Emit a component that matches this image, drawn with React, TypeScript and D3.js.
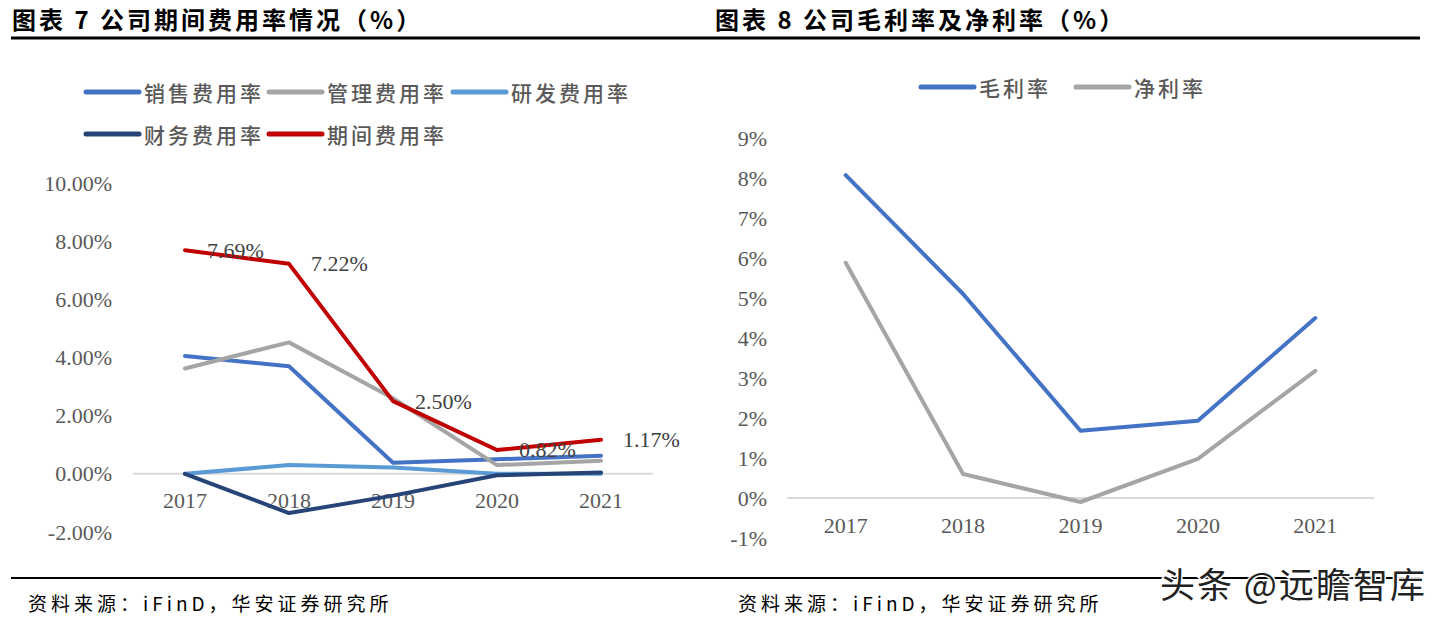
import React from 'react';
import * as d3 from 'd3';

const years = ['2017', '2018', '2019', '2020', '2021'];
const salesRate = [4.05, 3.70, 0.38, 0.50, 0.62];
const adminRate = [3.62, 4.52, 2.60, 0.30, 0.45];
const rndRate = [0.0, 0.30, 0.22, 0.0, 0.0];
const finRate = [0.0, -1.35, -0.75, -0.05, 0.05];
const periodRate = [7.69, 7.22, 2.50, 0.82, 1.17];
const grossMargin = [8.07, 5.10, 1.68, 1.93, 4.50];
const netMargin = [5.88, 0.60, -0.10, 0.98, 3.18];
const leftTicks = [-2, 0, 2, 4, 6, 8, 10];
const rightTicks = [-1, 0, 1, 2, 3, 4, 5, 6, 7, 8, 9];

const leftSeries = [
  { name: '销售费用率', values: salesRate, color: '#4472C4' },
  { name: '管理费用率', values: adminRate, color: '#A5A5A5' },
  { name: '研发费用率', values: rndRate, color: '#5B9BD5' },
  { name: '财务费用率', values: finRate, color: '#264478' },
  { name: '期间费用率', values: periodRate, color: '#C00000' },
];
const rightSeries = [
  { name: '毛利率', values: grossMargin, color: '#4472C4' },
  { name: '净利率', values: netMargin, color: '#A5A5A5' },
];

const SERIF = '"Liberation Serif", "DejaVu Serif", serif';
const CJK = '"Noto Sans CJK SC", "Noto Sans", sans-serif';

function Chart({ series, ticks, x0, x1, yTop, yBottom, yMin, yMax, tickX, fmt, yearY, labels }: any) {
  const x = d3.scaleBand<string>().domain(years).range([x0, x1]);
  const y = d3.scaleLinear().domain([yMin, yMax]).range([yBottom, yTop]);
  const cx = (i: number) => (x(years[i]) as number) + x.bandwidth() / 2;
  const line = d3.line<number>().x((_, i) => cx(i)).y((d) => y(d));
  return (
    <g>
      <line x1={x0} x2={x1} y1={y(0)} y2={y(0)} stroke="#D9D9D9" strokeWidth={2} />
      {ticks.map((t: number) => (
        <text key={t} x={tickX} y={y(t)} textAnchor="end" dominantBaseline="central"
          fontFamily={SERIF} fontSize={22} fill="#595959">{fmt(t)}</text>
      ))}
      {years.map((yr, i) => (
        <text key={yr} x={cx(i)} y={yearY} textAnchor="middle" dominantBaseline="central"
          fontFamily={SERIF} fontSize={22} fill="#595959">{yr}</text>
      ))}
      {series.map((s: any) => (
        <path key={s.name} d={line(s.values) as string} fill="none" stroke={s.color}
          strokeWidth={4} strokeLinejoin="round" strokeLinecap="round" />
      ))}
      {labels && labels.map((v: number, i: number) => (
        <text key={i} x={cx(i) + 22} y={y(v)} dominantBaseline="central"
          fontFamily={SERIF} fontSize={22} fill="#404040">{v.toFixed(2) + '%'}</text>
      ))}
    </g>
  );
}

function LegendItem({ x, y, color, name }: any) {
  return (
    <g>
      <line x1={x} x2={x + 53} y1={y} y2={y} stroke={color} strokeWidth={5} strokeLinecap="round" />
      <text x={x + 58} y={y} dominantBaseline="central" fontFamily={CJK} fontSize={21}
        fontWeight={500} letterSpacing={3} fill="#595959">{name}</text>
    </g>
  );
}

export default function App() {
  return (
    <svg width={1450} height={624} style={{ position: 'absolute', left: 0, top: 0, background: '#fff' }}>
      <rect width={1450} height={624} fill="#fff" />
      <text x={12} y={18} dominantBaseline="central" fontFamily={CJK} fontSize={24} fontWeight={700}
        letterSpacing={3} fill="#000">图表 7  公司期间费用率情况（%）</text>
      <text x={715} y={18} dominantBaseline="central" fontFamily={CJK} fontSize={24} fontWeight={700}
        letterSpacing={3} fill="#000">图表 8  公司毛利率及净利率（%）</text>
      <line x1={11} x2={1420} y1={38} y2={38} stroke="#000" strokeWidth={3} />
      <line x1={11} x2={1420} y1={578} y2={578} stroke="#000" strokeWidth={2} />

      <LegendItem x={86} y={92} color={leftSeries[0].color} name={leftSeries[0].name} />
      <LegendItem x={269} y={92} color={leftSeries[1].color} name={leftSeries[1].name} />
      <LegendItem x={453} y={92} color={leftSeries[2].color} name={leftSeries[2].name} />
      <LegendItem x={86} y={134} color={leftSeries[3].color} name={leftSeries[3].name} />
      <LegendItem x={269} y={134} color={leftSeries[4].color} name={leftSeries[4].name} />

      <LegendItem x={921} y={87} color={rightSeries[0].color} name={rightSeries[0].name} />
      <LegendItem x={1076} y={87} color={rightSeries[1].color} name={rightSeries[1].name} />

      <Chart series={leftSeries} ticks={leftTicks} x0={133} x1={653} yTop={183} yBottom={532}
        yMin={-2} yMax={10} tickX={112} fmt={(t: number) => t.toFixed(2) + '%'} yearY={500}
        labels={periodRate} />
      <Chart series={rightSeries} ticks={rightTicks} x0={787} x1={1374} yTop={138} yBottom={538}
        yMin={-1} yMax={9} tickX={767} fmt={(t: number) => t + '%'} yearY={525} />

      <text x={28} y={602} dominantBaseline="central" fontFamily={CJK} fontSize={19}
        letterSpacing={4} fill="#000">资料来源：iFinD，华安证券研究所</text>
      <text x={738} y={602} dominantBaseline="central" fontFamily={CJK} fontSize={19}
        letterSpacing={4} fill="#000">资料来源：iFinD，华安证券研究所</text>
      <text x={1160} y={582} dominantBaseline="central" fontFamily={CJK} fontSize={35}
        letterSpacing={2} fill="#222" stroke="#fff" strokeWidth={3} paintOrder="stroke">头条 @远瞻智库</text>
    </svg>
  );
}
